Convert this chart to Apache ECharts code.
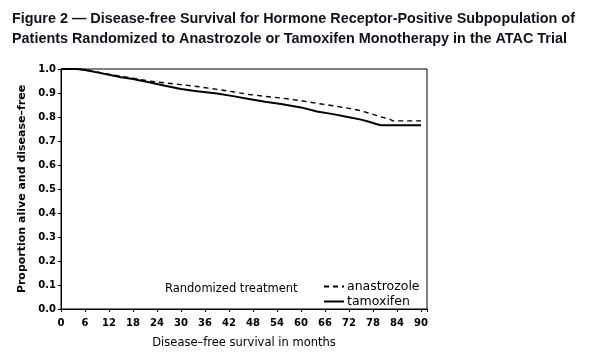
<!DOCTYPE html>
<html>
<head>
<meta charset="utf-8">
<script src="https://cdn.jsdelivr.net/npm/echarts@6/dist/echarts.min.js"></script>
<style>html,body{margin:0;padding:0;background:#fff}#c{width:589px;height:354px}</style>
</head>
<body>
<div id="c"></div>
<script>
const months = [0, 4, 6, 9, 12, 15, 18, 22, 26, 30, 34, 39, 43, 47, 51, 55, 60, 64, 68, 72, 75, 77, 79, 80, 82, 83, 90];
const anastrozole = [1.0, 1.0, 0.997, 0.988, 0.978, 0.970, 0.962, 0.950, 0.942, 0.935, 0.927, 0.915, 0.905, 0.894, 0.886, 0.879, 0.868, 0.857, 0.847, 0.836, 0.826, 0.816, 0.806, 0.800, 0.792, 0.784, 0.784];
const tamoxifen = [1.0, 1.0, 0.996, 0.986, 0.976, 0.966, 0.958, 0.945, 0.930, 0.917, 0.907, 0.898, 0.887, 0.875, 0.864, 0.854, 0.840, 0.823, 0.812, 0.799, 0.789, 0.780, 0.770, 0.766, 0.766, 0.766, 0.766];
const titleLines = ['Figure 2 \u2014 Disease-free Survival for Hormone Receptor-Positive Subpopulation of',
  'Patients Randomized to Anastrozole or Tamoxifen Monotherapy in the ATAC Trial'];
const xTicks = [0, 6, 12, 18, 24, 30, 36, 42, 48, 54, 60, 66, 72, 78, 84, 90];

const chart = echarts.init(document.getElementById('c'), null, {renderer: 'canvas'});
const F = 'DejaVu Sans, sans-serif';
const axisFont = {fontFamily: F, fontSize: 10, fontWeight: 'bold', color: '#000'};
chart.setOption({
  animation: false,
  backgroundColor: '#fff',
  title: [
    {text: titleLines.join('\n'), left: 7, top: 4,
     textStyle: {fontFamily: 'Liberation Sans, Arial, sans-serif', fontSize: 14.4, fontWeight: 'bold', color: '#14101e', lineHeight: 20}},
    {text: 'Randomized treatment', left: 160, top: 278,
     textStyle: {fontFamily: F, fontSize: 11.5, fontWeight: 'normal', color: '#000'}}
  ],
  legend: {
    orient: 'vertical', left: 318, top: 275, itemWidth: 20, itemHeight: 10, itemGap: 2,
    itemStyle: {opacity: 0},
    textStyle: {fontFamily: F, fontSize: 12.5, color: '#000', padding: [0, 0, 0, -2]},
    data: ['anastrozole', 'tamoxifen']
  },
  grid: {left: 61, top: 69, right: 162, bottom: 45, show: true, borderColor: '#000', borderWidth: 1},
  xAxis: {
    type: 'value', min: 0, max: 91.5, interval: 6,
    name: 'Disease\u2013free survival in months', nameLocation: 'middle', nameGap: 28,
    nameTextStyle: {fontFamily: F, fontSize: 11.5, color: '#000'},
    axisLine: {lineStyle: {color: '#000', width: 1}},
    axisTick: {show: true, length: 3, lineStyle: {color: '#000'}},
    axisLabel: Object.assign({margin: 9, formatter: v => (xTicks.indexOf(v) >= 0 ? String(v) : '')}, axisFont),
    splitLine: {show: false}
  },
  yAxis: {
    type: 'value', min: 0, max: 1.0, interval: 0.1,
    name: 'Proportion alive and disease\u2013free', nameLocation: 'middle', nameGap: 33,
    nameTextStyle: {fontFamily: F, fontSize: 11, fontWeight: 'bold', color: '#000'},
    axisLine: {lineStyle: {color: '#000', width: 1}},
    axisTick: {show: true, length: 3, lineStyle: {color: '#000'}},
    axisLabel: Object.assign({margin: 5, formatter: v => v.toFixed(1)}, axisFont),
    splitLine: {show: false}
  },
  series: [
    {name: 'anastrozole', type: 'line', symbol: 'none', data: months.map((m, i) => [m, anastrozole[i]]),
     lineStyle: {color: '#000', width: 1.4, type: [5, 4]}, itemStyle: {color: '#000'}},
    {name: 'tamoxifen', type: 'line', symbol: 'none', data: months.map((m, i) => [m, tamoxifen[i]]),
     lineStyle: {color: '#000', width: 2}, itemStyle: {color: '#000'}}
  ]
});
</script>
</body>
</html>
